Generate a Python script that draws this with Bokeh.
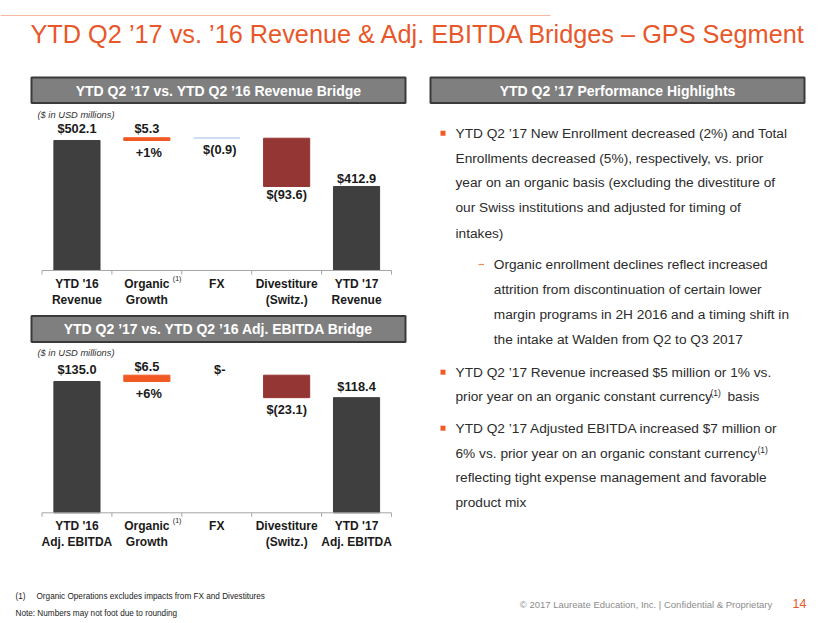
from bokeh.plotting import figure
from bokeh.models import Range1d
from bokeh.core.properties import value
from bokeh.embed import file_html
from bokeh.resources import INLINE

# ---------------- data ----------------
rev_categories = ["YTD '16\nRevenue", "Organic\nGrowth", "FX", "Divestiture\n(Switz.)", "YTD '17\nRevenue"]
rev_values = [502.1, 5.3, -0.9, -93.6, 412.9]
rev_labels = ["$502.1", "$5.3", "$(0.9)", "$(93.6)", "$412.9"]
rev_growth_label = "+1%"

ebitda_categories = ["YTD '16\nAdj. EBITDA", "Organic\nGrowth", "FX", "Divestiture\n(Switz.)", "YTD '17\nAdj. EBITDA"]
ebitda_values = [135.0, 6.5, 0.0, -23.1, 118.4]
ebitda_labels = ["$135.0", "$6.5", "$-", "$(23.1)", "$118.4"]
ebitda_growth_label = "+6%"

bullet1_lines = [
    "YTD Q2 \u201917 New Enrollment decreased (2%) and Total",
    "Enrollments decreased (5%), respectively, vs. prior",
    "year on an organic basis (excluding the divestiture of",
    "our Swiss institutions and adjusted for timing of",
    "intakes)",
]
sub_bullet_lines = [
    "Organic enrollment declines reflect increased",
    "attrition from discontinuation of certain lower",
    "margin programs in 2H 2016 and a timing shift in",
    "the intake at Walden from Q2 to Q3 2017",
]
bullet2_lines = [
    "YTD Q2 \u201917 Revenue increased $5 million or 1% vs.",
    "prior year on an organic constant currency",
]
bullet3_lines = [
    "YTD Q2 \u201917 Adjusted EBITDA increased $7 million or",
    "6% vs. prior year on an organic constant currency",
    "reflecting tight expense management and favorable",
    "product mix",
]

# ---------------- styles / layout ----------------
FONT = value("Liberation Sans")
ORANGE = "#e8572a"
TEXT = "#2b2b2b"
bar_colors = ["#3f3f3f", "#f15a24", "#c6d9f0", "#943634", "#3f3f3f"]

PX0, PX1, PY0, PY1 = 0, 822, 0, 621
CAT_LEFT, CAT_STEP = 41.5, 69.9
REV_BASE_PX, REV_AXIS_MIN, REV_K = 270.0, 250.0, 0.5157
EB_BASE_PX, EB_AXIS_MIN, EB_K = 512.3, 0.0, 0.9726

rev_label_dy = [-12, -9, 11, 8, -8]
eb_label_dy = [-12, -9, -6, 12, -11]
label_dx = [0, 0, 3, 0, 0]

p = figure(width=PX1 - PX0, height=PY1 - PY0, output_backend="svg", toolbar_location=None,
           x_range=Range1d(PX0, PX1), y_range=Range1d(PY1, PY0),
           min_border=0, outline_line_color=None, background_fill_color="white")
p.axis.visible = False
p.grid.visible = False

p.extra_x_ranges = {"cat": Range1d((PX0 - CAT_LEFT) / CAT_STEP - 0.5, (PX1 - CAT_LEFT) / CAT_STEP - 0.5)}
p.extra_y_ranges = {
    "rev": Range1d(REV_AXIS_MIN - (PY1 - REV_BASE_PX) / REV_K, REV_AXIS_MIN + (REV_BASE_PX - PY0) / REV_K),
    "eb": Range1d(EB_AXIS_MIN - (PY1 - EB_BASE_PX) / EB_K, EB_AXIS_MIN + (EB_BASE_PX - PY0) / EB_K),
}

# ---- title & top line
p.segment(x0=[PX0], y0=[15], x1=[550], y1=[15], line_color="#f5b9a2", line_width=1.2)
p.text(x=[30], y=[33], text=["YTD Q2 \u201917 vs. \u201916 Revenue & Adj. EBITDA Bridges \u2013 GPS Segment"],
       text_font=FONT, text_font_size="25.3px", text_color=ORANGE, text_baseline="middle")

# ---- header boxes
hdr = dict(left=[31, 31, 430], right=[405, 405, 804], top=[77, 315.5, 77], bottom=[102.5, 341.5, 102.5])
p.quad(**hdr, fill_color="#7f7f7f", line_color="#3a3a3a", line_width=2)
p.text(x=[218, 218, 617], y=[90, 328.5, 90],
       text=["YTD Q2 \u201917 vs. YTD Q2 \u201916 Revenue Bridge",
             "YTD Q2 \u201917 vs. YTD Q2 \u201916 Adj. EBITDA Bridge",
             "YTD Q2 \u201917 Performance Highlights"],
       text_font=FONT, text_font_size="14px", text_font_style="bold", text_color="white",
       text_align="center", text_baseline="middle")


def waterfall(vals, base):
    bottoms, tops = [], []
    run = vals[0]
    n = len(vals)
    for i, v in enumerate(vals):
        if i == 0:
            bottoms.append(base); tops.append(v); run = v
        elif i == n - 1:
            bottoms.append(base); tops.append(v)
        else:
            start = run
            run = run + v
            bottoms.append(min(start, run)); tops.append(max(start, run))
    return bottoms, tops


def draw_chart(cats, vals, labels, growth, axis_min, yname, base_px, label_dy, units_note_y, cat_top_y):
    bottoms, tops = waterfall(vals, axis_min)
    idx = [i for i, v in enumerate(vals) if v != 0]
    p.vbar(x=idx, width=0.66, bottom=[bottoms[i] for i in idx], top=[tops[i] for i in idx],
           fill_color=[bar_colors[i] for i in idx], line_color=[bar_colors[i] for i in idx],
           line_width=1, x_range_name="cat", y_range_name=yname)
    # axis line + ticks
    n = len(vals)
    p.segment(x0=[-0.5], y0=[axis_min], x1=[n - 0.5], y1=[axis_min], line_color="#a6a6a6",
              line_width=1, x_range_name="cat", y_range_name=yname)
    ticks = [i - 0.5 for i in range(n + 1)]
    p.segment(x0=ticks, y0=[base_px] * len(ticks), x1=ticks, y1=[base_px + 4] * len(ticks),
              line_color="#a6a6a6", line_width=1, x_range_name="cat")
    # value labels
    ys = []
    for i, v in enumerate(vals):
        if i == 0 or i == n - 1 or v >= 0:
            ys.append(tops[i])
        else:
            ys.append(bottoms[i])
    for i in range(n):
        p.text(x=[i], y=[ys[i]], text=[labels[i]], x_offset=label_dx[i], y_offset=label_dy[i],
               text_font=FONT, text_font_size="12.8px", text_font_style="bold", text_color="#1a1a1a",
               text_align="center", text_baseline="middle", x_range_name="cat", y_range_name=yname)
    # growth % below the organic bar
    p.text(x=[1], y=[bottoms[1]], text=[growth], x_offset=2, y_offset=12,
           text_font=FONT, text_font_size="12.8px", text_font_style="bold", text_color="#1a1a1a",
           text_align="center", text_baseline="middle", x_range_name="cat", y_range_name=yname)
    # category labels
    p.text(x=list(range(n)), y=[cat_top_y] * n, text=cats,
           text_font=FONT, text_font_size="12px", text_font_style="bold", text_color="#1a1a1a",
           text_align="center", text_baseline="top", text_line_height=1.15, x_range_name="cat")
    p.text(x=[1], y=[cat_top_y + 2], text=["(1)"], x_offset=26,
           text_font=FONT, text_font_size="7px", text_color="#1a1a1a",
           text_align="left", text_baseline="middle", x_range_name="cat")
    # units note
    p.text(x=[37], y=[units_note_y], text=["($ in USD millions)"],
           text_font=FONT, text_font_size="9.3px", text_font_style="italic", text_color="#333333",
           text_baseline="middle")


draw_chart(rev_categories, rev_values, rev_labels, rev_growth_label, REV_AXIS_MIN, "rev",
           REV_BASE_PX, rev_label_dy, 114.3, 276)
draw_chart(ebitda_categories, ebitda_values, ebitda_labels, ebitda_growth_label, EB_AXIS_MIN, "eb",
           EB_BASE_PX, eb_label_dy, 352.7, 518)

# ---- right column text
BODY = dict(text_font=FONT, text_font_size="13.7px", text_color=TEXT, text_baseline="middle")
b1_y = [132.7, 157.7, 182.3, 207.3, 232.7]
sb_y = [264, 289, 314, 338.5]
b2_y = [371.7, 396]
b3_y = [427.7, 452.7, 477.3, 502.3]
p.text(x=[455] * 5, y=b1_y, text=bullet1_lines, **BODY)
p.text(x=[493.3] * 4, y=sb_y, text=sub_bullet_lines, **BODY)
p.text(x=[455] * 2, y=b2_y, text=bullet2_lines, **BODY)
p.text(x=[455] * 4, y=b3_y, text=bullet3_lines, **BODY)
p.text(x=[727], y=[396], text=["basis"], **BODY)
p.text(x=[710, 757], y=[392, 449], text=["(1)", "(1)"], text_font=FONT, text_font_size="8.5px",
       text_color=TEXT, text_baseline="middle")
# bullets
p.rect(x=[442.5, 442.5, 442.5], y=[b1_y[0], b2_y[0], b3_y[0]], width=5, height=5,
       fill_color="#f15a24", line_color=None)
p.segment(x0=[478], y0=[sb_y[0]], x1=[483.5], y1=[sb_y[0]], line_color="#f08a5d", line_width=1.2)

# ---- footer
p.text(x=[15, 36, 15], y=[596, 596, 613],
       text=["(1)", "Organic Operations excludes impacts from FX  and Divestitures",
             "Note: Numbers may not foot due to rounding"],
       text_font=FONT, text_font_size="8.2px", text_color="#1a1a1a", text_baseline="middle")
p.text(x=[777], y=[604], text=["\u00a9 2017 Laureate Education, Inc.  |  Confidential & Proprietary"],
       text_font=FONT, text_font_size="9.5px", text_color="#8c8c8c", text_align="right",
       text_baseline="middle")
p.text(x=[806], y=[603], text=["14"], text_font=FONT, text_font_size="12.5px", text_color=ORANGE,
       text_align="right", text_baseline="middle")

open("out.html", "w").write(file_html(p, INLINE))
